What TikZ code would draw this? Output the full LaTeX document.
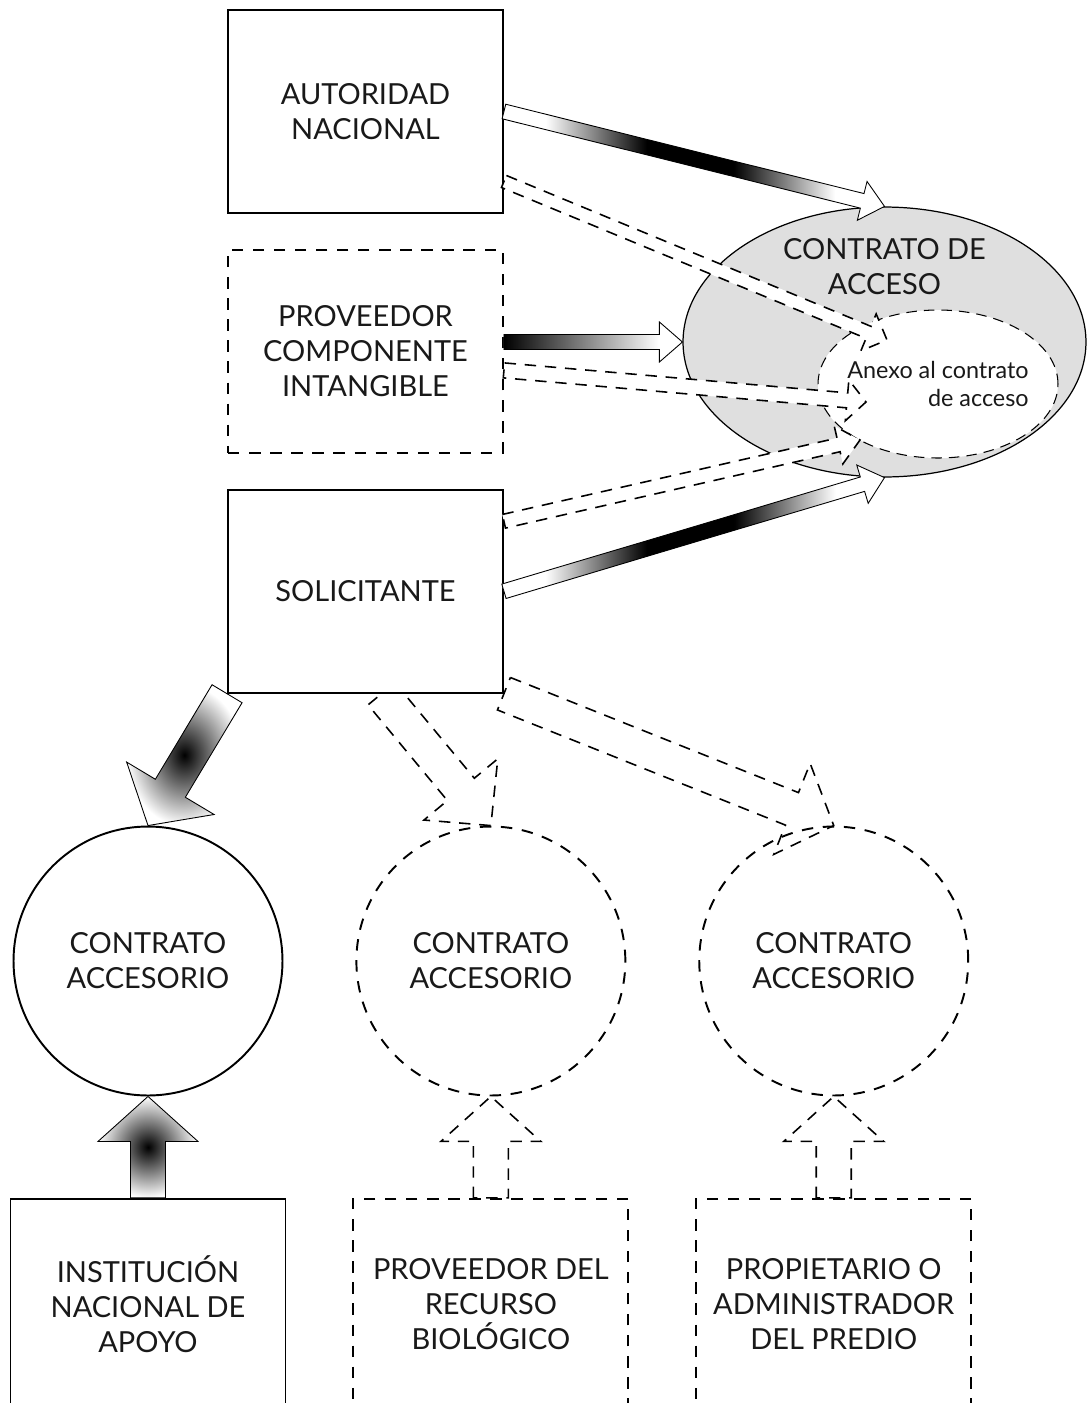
\documentclass[tikz,border=0pt]{standalone}
\usepackage{fontspec}
\setmainfont{Lato}
\usetikzlibrary{shapes.geometric, positioning, calc, backgrounds}

\pgfdeclarehorizontalshading{flash}{100bp}{color(0bp)=(white); color(31bp)=(white); color(45bp)=(black); color(57bp)=(black); color(71bp)=(white); color(100bp)=(white)}

% block arrow: [shaft fill]{outline}{from}{to}{shaft half width}{head length}{head half width}
\newcommand{\blockarrow}[7][fill=white]{%
  \coordinate (ba_h) at ($(#4)!#6!(#3)$);
  \coordinate (ba_1) at ($(#3)!#5!90:(#4)$);
  \coordinate (ba_2) at ($(ba_h)!#5!90:(#4)$);
  \coordinate (ba_3) at ($(ba_h)!#7!90:(#4)$);
  \coordinate (ba_4) at ($(ba_h)!#7!-90:(#4)$);
  \coordinate (ba_5) at ($(ba_h)!#5!-90:(#4)$);
  \coordinate (ba_6) at ($(#3)!#5!-90:(#4)$);
  \fill[white] (ba_1) -- (ba_2) -- (ba_3) -- (#4) -- (ba_4) -- (ba_5) -- (ba_6) -- cycle;
  \path[#1] (ba_1) -- (ba_2) -- (ba_5) -- (ba_6) -- cycle;
  \path[#2] (ba_1) -- (ba_2) -- (ba_3) -- (#4) -- (ba_4) -- (ba_5) -- (ba_6) -- cycle;
}

\begin{document}
\begin{tikzpicture}[
    x=0.02cm, y=-0.02cm,
    boxtext/.style={font=\fontsize{16.5}{20}\selectfont, text=black!90, align=center},
    box/.style={rectangle, draw, line width=1.1pt, fill=white, minimum width=5.5cm, minimum height=4.06cm, boxtext},
    dbox/.style={box, dash pattern=on 6.5pt off 5.5pt},
    circ/.style={circle, draw, line width=1.1pt, minimum size=5.38cm, boxtext},
    dcirc/.style={circ, dash pattern=on 6.5pt off 5.5pt},
    solidarrow/.style={draw, line width=0.5pt},
    dasharrow/.style={draw, line width=0.9pt, dash pattern=on 6.5pt off 5pt},
    flashshaft/.style={shade, shading=flash, shading angle=0},
]

\useasboundingbox (0,0) rectangle (1088,1403);

%% NODES
    % upper boxes
    \node[box] (autoridad) at (365.5,111.5) {AUTORIDAD\\NACIONAL};
    \node[dbox, below=0.7cm of autoridad] (proveedor) {PROVEEDOR\\COMPONENTE\\INTANGIBLE};
    \node[box, below=0.7cm of proveedor] (solicitante) {SOLICITANTE};

    % access contract
    \node[ellipse, draw, line width=0.7pt, fill=gray!25, minimum width=8.06cm, minimum height=5.4cm] (contrato) at (884.5,342) {};
    \node[boxtext] (contrato_txt) at ($(contrato.north)+(0,60)$) {CONTRATO DE\\ACCESO};
    \node[ellipse, draw, fill=white, line width=0.6pt, dash pattern=on 6pt off 4pt, minimum width=4.8cm, minimum height=2.96cm] (anexo) at (938,384) {};
    \node[font=\fontsize{13.3}{15.5}\selectfont, text=black!90, align=right] (anexo_txt) at (anexo.center) {Anexo al contrato\\de acceso};

    % accessory contracts
    \node[circ] (acc_inst) at (148,961) {CONTRATO\\ACCESORIO};
    \node[dcirc, right=1.44cm of acc_inst] (acc_prov) {CONTRATO\\ACCESORIO};
    \node[dcirc, right=1.44cm of acc_prov] (acc_pred) {CONTRATO\\ACCESORIO};

    % lower boxes
    \node[box, minimum height=4.2cm, below=2.03cm of acc_inst] (institucion) {INSTITUCIÓN\\NACIONAL DE\\APOYO};
    \node[dbox, minimum height=4.2cm, below=2.03cm of acc_prov] (prov_bio) {PROVEEDOR DEL\\RECURSO\\BIOLÓGICO};
    \node[dbox, minimum height=4.2cm, below=2.03cm of acc_pred] (propietario) {PROPIETARIO O\\ADMINISTRADOR\\DEL PREDIO};

%% CONNECTIONS
    % parties -> access contract
    \coordinate (prov_out) at (proveedor.east |- contrato.west);
    \blockarrow[flashshaft]{solidarrow}{autoridad.east}{contrato.north}{0.15cm}{0.46cm}{0.4cm}
    \blockarrow[left color=black, middle color=black!45, right color=white]{solidarrow}{prov_out}{contrato.west}{0.15cm}{0.46cm}{0.4cm}
    \blockarrow[flashshaft]{solidarrow}{solicitante.east}{contrato.south}{0.15cm}{0.46cm}{0.4cm}

    % parties -> annex
    \coordinate (aut_out) at ($(autoridad.east)+(0,70)$);
    \coordinate (prov_out2) at ($(proveedor.east)+(0,19)$);
    \coordinate (sol_out) at ($(solicitante.east)+(0,-70)$);
    \coordinate (anexo_a) at (887,340);
    \coordinate (anexo_b) at (866,402);
    \coordinate (anexo_c) at (860,440);
    \blockarrow{dasharrow}{aut_out}{anexo_a}{0.13cm}{0.4cm}{0.4cm}
    \blockarrow{dasharrow}{prov_out2}{anexo_b}{0.15cm}{0.38cm}{0.41cm}
    \blockarrow{dasharrow}{sol_out}{anexo_c}{0.14cm}{0.44cm}{0.39cm}

    % applicant -> accessory contracts
    \begin{scope}[on background layer]
    \coordinate (sol_out2) at ($(solicitante.south)+(16,0)$);
    \blockarrow{solidarrow, inner color=black, outer color=white}{solicitante.south west}{acc_inst.north}{0.35cm}{0.87cm}{1.02cm}
    \blockarrow{dasharrow}{sol_out2}{acc_prov.north}{0.35cm}{0.94cm}{0.96cm}
    \blockarrow{dasharrow}{solicitante.south east}{acc_pred.north}{0.35cm}{0.9cm}{0.98cm}
    \end{scope}

    % lower parties -> accessory contracts
    \coordinate (inst_out) at (acc_inst.south |- institucion.north);
    \blockarrow{solidarrow, inner color=black, outer color=white}{inst_out}{acc_inst.south}{0.35cm}{0.9cm}{1.0cm}
    \blockarrow{dasharrow}{prov_bio.north}{acc_prov.south}{0.35cm}{0.9cm}{1.0cm}
    \blockarrow{dasharrow}{propietario.north}{acc_pred.south}{0.35cm}{0.9cm}{1.0cm}

\end{tikzpicture}
\end{document}
